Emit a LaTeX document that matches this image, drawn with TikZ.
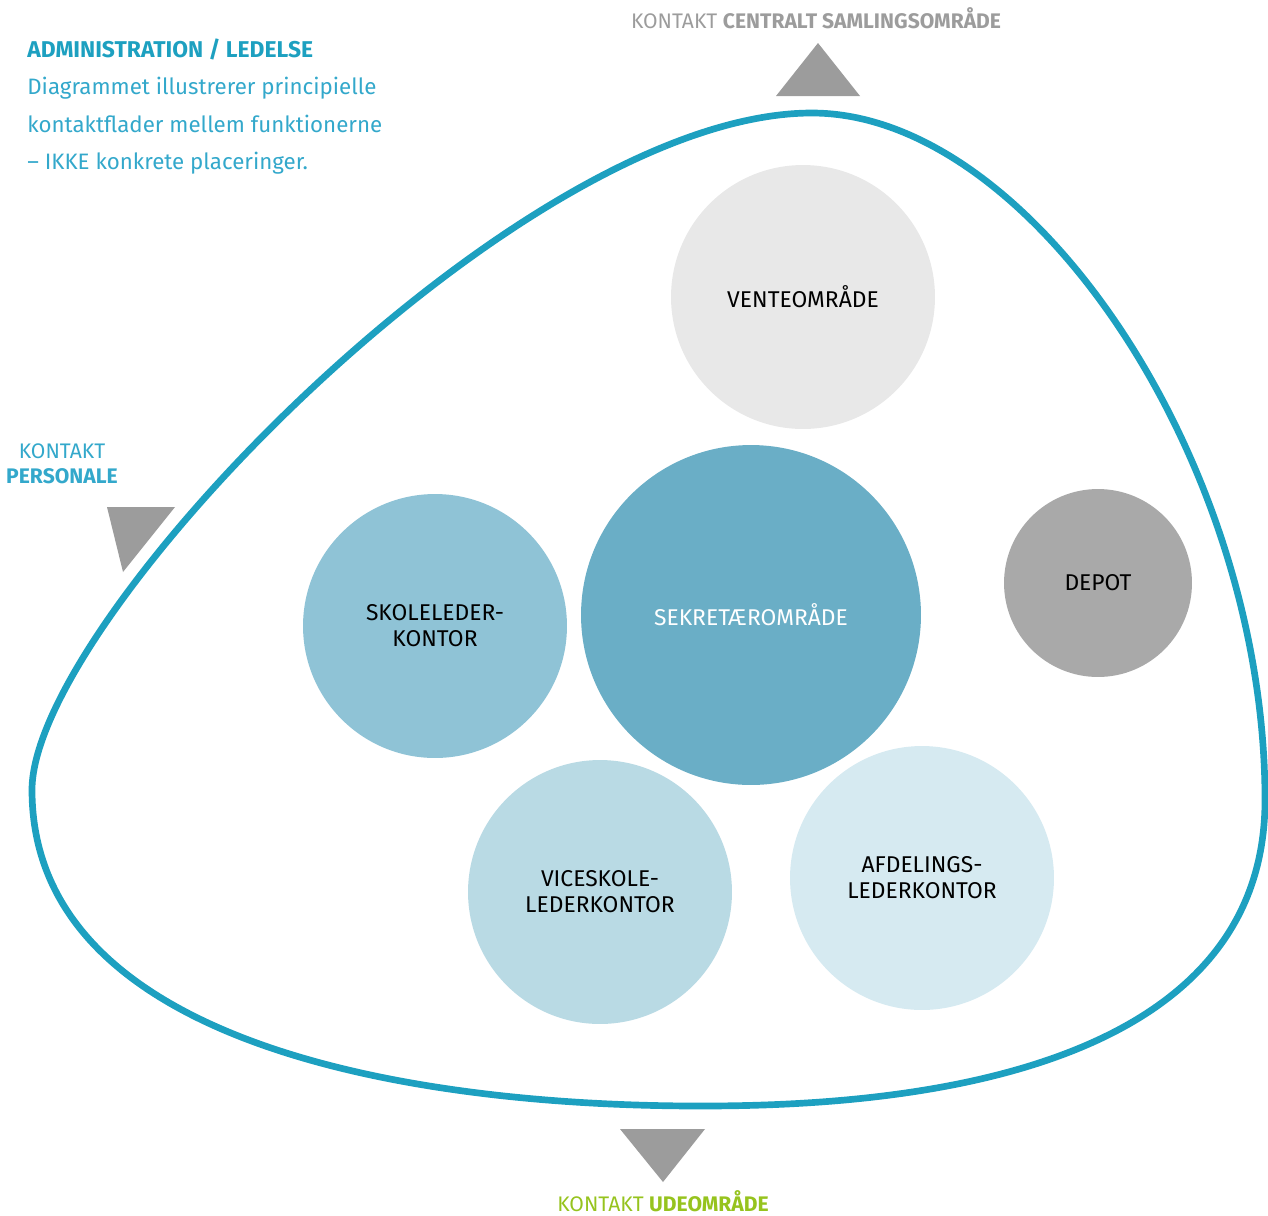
\documentclass[tikz,border=0pt]{standalone}
\usepackage{fontspec}
\setmainfont{Fira Sans}
\usepackage{xcolor}
\usetikzlibrary{positioning}
\definecolor{kantblaa}{HTML}{1DA0C0}
\definecolor{tekstblaa}{HTML}{33A8CB}
\definecolor{pilgraa}{HTML}{9C9C9C}
\definecolor{udegroen}{HTML}{96C31E}
\definecolor{sekrfarve}{HTML}{6AAEC6}
\definecolor{skolefarve}{HTML}{8FC3D6}
\definecolor{vicefarve}{HTML}{B9DAE4}
\definecolor{afdfarve}{HTML}{D6EAF1}
\definecolor{ventefarve}{HTML}{E8E8E8}
\definecolor{depotfarve}{HTML}{A9A9A9}
\tikzset{
    room/.style={circle, inner sep=0pt, align=center,
        font=\fontsize{13}{14.7}\selectfont},
    bigroom/.style={room, minimum size=6.8cm},
    midroom/.style={room, minimum size=5.28cm},
    smallroom/.style={room, minimum size=3.76cm},
    pil/.style={fill=pilgraa},
    kant/.style={draw=kantblaa, line width=3.8pt},
    kontakt/.style={inner sep=0pt, font=\fontsize{12}{14.2}\selectfont},
}
\newcommand{\kbold}[1]{\textbf{#1}}

\begin{document}
\begin{tikzpicture}[x=0.02cm, y=-0.02cm]
    \useasboundingbox (0,0) rectangle (1268,1215);

    \coordinate (ktop)    at (812,113);
    \coordinate (kright)  at (1265,800);
    \coordinate (kbottom) at (700,1106);
    \coordinate (kleft)   at (32,790);
    \draw[kant] (ktop) .. controls (1030,113) and (1265,460) .. (kright)
        .. controls (1265,1090) and (860,1106) .. (kbottom)
        .. controls (400,1106) and (32,1040) .. (kleft)
        .. controls (32,620) and (520,113) .. (ktop) -- cycle;

    \node[midroom, fill=ventefarve]  (vente) at (803,297) {VENTEOMRÅDE};
    \node[bigroom, fill=sekrfarve, text=white] (sekr) at (751,615) {SEKRETÆROMRÅDE};
    \node[midroom, fill=skolefarve]  (skole) at (435,626) {SKOLELEDER-\\KONTOR};
    \node[smallroom, fill=depotfarve] (depot) at (1098,583) {DEPOT};
    \node[midroom, fill=vicefarve]   (vice)  at (600,892) {VICESKOLE-\\LEDERKONTOR};
    \node[midroom, fill=afdfarve]    (afd)   at (922,878) {AFDELINGS-\\LEDERKONTOR};

    \fill[pil] (818,43) -- (776,96) -- (860,96) -- cycle;
    \fill[pil] (107,507) -- (175,507) -- (123,572) -- cycle;
    \fill[pil] (620,1129) -- (705,1129) -- (663,1182) -- cycle;

    \node[kontakt, text=pilgraa, anchor=base] (central) at (816,28) {KONTAKT \kbold{CENTRALT SAMLINGSOMRÅDE}};
    \node[kontakt, text=tekstblaa, align=center] (personale) at (62,464) {KONTAKT\\\kbold{PERSONALE}};
    \node[kontakt, text=udegroen, anchor=base] (ude) at (663,1211) {KONTAKT \kbold{UDEOMRÅDE}};

    \node[anchor=base west, inner sep=0pt, text=kantblaa,
          font=\fontsize{13}{14}\selectfont\bfseries] (titel) at (27,57)
        {ADMINISTRATION / LEDELSE};
    \node[anchor=north west, inner sep=0pt, text=tekstblaa, align=left,
          font=\fontsize{12.7}{21.2}\selectfont] (intro) at (27,77)
        {Diagrammet illustrerer principielle\\
         kontaktflader mellem funktionerne\\
         – IKKE konkrete placeringer.};
\end{tikzpicture}
\end{document}
